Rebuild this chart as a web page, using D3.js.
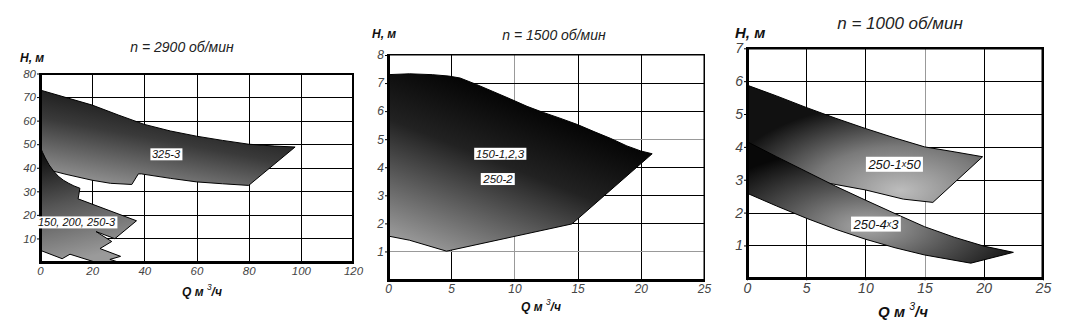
<!DOCTYPE html>
<html>
<head>
<meta charset="utf-8">
<script src="https://cdn.jsdelivr.net/npm/d3@7"></script>
<style>
  body { margin: 0; background: #fff; }
  text { font-family: "Liberation Sans", Arial, sans-serif; }
</style>
</head>
<body>
<script>
// ---- data ----
const titles = ["n = 2900 об/мин", "n = 1500 об/мин", "n = 1000 об/мин"]

const p1XTicks = [0, 20, 40, 60, 80, 100, 120]
const p1YTicks = [10, 20, 30, 40, 50, 60, 70, 80]
const p2XTicks = [0, 5, 10, 15, 20, 25]
const p2YTicks = [1, 2, 3, 4, 5, 6, 7, 8]
const p3XTicks = [0, 5, 10, 15, 20, 25]
const p3YTicks = [1, 2, 3, 4, 5, 6, 7]

// [Q, H] outlines
const zone325 = [[0, 73], [10, 69.8], [20, 66.6], [30, 62.4], [40, 58.4], [50, 55.6], [60, 53.4],
  [70, 51.6], [80, 50], [90, 49.2], [97.8, 48.8], [80, 32.5], [70, 33.2], [60, 34], [50, 35.5],
  [40, 37.2], [38.9, 37.4], [37.7, 37.4], [35.2, 32.9], [27, 33.4], [20, 34.7], [10, 37.2], [0, 40]]
const zone150 = [[0, 49], [1, 46.5], [2, 44.2], [3.5, 41.2], [5, 38.9], [7, 36.4], [9, 34.7],
  [11, 33.4], [13, 32.3], [15.3, 31.3], [14.6, 26.8], [37, 17.5], [28.7, 9.9], [21.5, 12.9],
  [27.5, 8.7], [23, 5.7], [30.9, 2.4], [26.8, 1.1], [30, 0], [21, 0], [11.5, 3.3], [8.5, 1.4], [0, 5]]
const zone1500 = [[0, 7.3], [1.7, 7.33], [3.5, 7.3], [4.8, 7.25], [5.7, 7.18], [7, 6.95], [8.3, 6.7],
  [9.7, 6.43], [11, 6.17], [12.3, 5.95], [13.6, 5.75], [15, 5.52], [16.3, 5.27], [17.6, 5.03],
  [18.9, 4.76], [20, 4.58], [20.9, 4.48], [14.55, 1.98], [4.63, 1.01], [1.7, 1.4], [0, 1.55]]
const zone1x50 = [[0, 5.88], [2.5, 5.55], [5, 5.2], [7.5, 4.87], [10, 4.56], [12.5, 4.27], [15, 4.0],
  [17.5, 3.85], [19.9, 3.7], [15.7, 2.31], [13.2, 2.41], [10, 2.69], [6.2, 2.94], [3, 3.3], [0, 3.7]]
const zone4x3 = [[0, 4.16], [2.5, 3.7], [5, 3.25], [7.5, 2.8], [10, 2.38], [12.5, 1.97], [15, 1.57],
  [17.5, 1.25], [20, 0.98], [22.5, 0.79], [18.9, 0.46], [15, 0.71], [12.5, 0.93], [10, 1.19],
  [7.5, 1.49], [5, 1.83], [2.5, 2.2], [0, 2.59]]

const svg = d3.select("body").append("svg")
  .attr("width", 1086)
  .attr("height", 330)

const defs = svg.append("defs")

function linGrad(id, x1, y1, x2, y2, stops) {
  const g = defs.append("linearGradient").attr("id", id)
    .attr("x1", x1).attr("y1", y1).attr("x2", x2).attr("y2", y2)
  stops.forEach(s => g.append("stop").attr("offset", s[0]).attr("stop-color", s[1]))
}
function radGrad(id, cx, cy, r, stops) {
  const g = defs.append("radialGradient").attr("id", id)
    .attr("cx", cx).attr("cy", cy).attr("r", r)
  stops.forEach(s => g.append("stop").attr("offset", s[0]).attr("stop-color", s[1]))
}

linGrad("g325", 0.05, 1, 0.55, 0, [[0, "#a2a2a2"], [0.55, "#3a3a3a"], [1, "#080808"]])
linGrad("g150", 0.3, 1, 0.1, 0, [[0, "#9a9a9a"], [0.5, "#555"], [1, "#050505"]])
linGrad("g1500", 0.1, 1, 0.6, 0.15, [[0, "#a0a0a0"], [0.6, "#222"], [1, "#000"]])
radGrad("g1x50", 0.65, 0.9, 0.75, [[0, "#bdbdbd"], [0.5, "#7a7a7a"], [1, "#111"]])
radGrad("g4x3", 0.45, 0.7, 0.65, [[0, "#a8a8a8"], [0.5, "#555"], [1, "#080808"]])

function drawPanel(p) {
  const x = d3.scaleLinear().domain(p.xDomain).range(p.xRange)
  const y = d3.scaleLinear().domain(p.yDomain).range(p.yRange)
  const g = svg.append("g")
  const h = p.yRange[0] - p.yRange[1]
  const w = p.xRange[1] - p.xRange[0]

  // grid as thin filled bars
  const grid = g.append("g")
  grid.selectAll("rect.vg").data(p.xTicks.slice(1, -1)).join("rect")
    .attr("class", "vg")
    .attr("x", d => Math.round(x(d))).attr("y", p.yRange[1])
    .attr("width", 1).attr("height", h)
    .attr("fill", d => p.greyX.includes(d) ? "#999" : "#000")
  grid.selectAll("rect.hg").data(p.yTicks.slice(0, -1)).join("rect")
    .attr("class", "hg")
    .attr("x", p.xRange[0]).attr("y", d => Math.round(y(d)))
    .attr("width", w).attr("height", 1)
    .attr("fill", d => p.greyY.includes(d) ? "#999" : "#000")

  // zones
  const area = d3.line().x(d => x(d[0])).y(d => y(d[1]))
  p.zones.forEach(z => {
    g.append("path").attr("d", area(z.pts) + "Z")
      .attr("fill", `url(#${z.grad})`)
      .attr("stroke", "#000").attr("stroke-width", 1)
  })

  // frame as filled bars
  const fx0 = Math.round(p.xRange[0]), fx1 = Math.round(p.xRange[1])
  const fy0 = Math.round(p.yRange[1]), fy1 = Math.round(p.yRange[0])
  const t = p.frame
  const frame = g.append("g").attr("fill", "#000")
  frame.append("rect").attr("x", fx0 - 1).attr("y", fy0 - 1).attr("width", fx1 - fx0 + 2).attr("height", t)
  frame.append("rect").attr("x", fx1 - t + 1).attr("y", fy0 - 1).attr("width", t).attr("height", fy1 - fy0 + 2)
  frame.append("rect").attr("x", fx0 - 1).attr("y", fy0 - 1).attr("width", 3).attr("height", fy1 - fy0 + 3)
  frame.append("rect").attr("x", fx0 - 1).attr("y", fy1 - 1).attr("width", fx1 - fx0 + 2).attr("height", 3)

  // axes
  const xAxis = d3.axisBottom(x).tickValues(p.xTicks).tickSize(2).tickPadding(3).tickFormat(d3.format("d"))
  const yAxis = d3.axisLeft(y).tickValues(p.yTicks).tickSize(3).tickPadding(1).tickFormat(d3.format("d"))
  const xa = g.append("g").attr("transform", `translate(0, ${p.yRange[0]})`).call(xAxis)
  const ya = g.append("g").attr("transform", `translate(${p.xRange[0]}, 0)`).call(yAxis)
  ;[xa, ya].forEach(a => {
    a.select(".domain").remove()
    a.selectAll(".tick line").attr("stroke", "#000")
    a.selectAll("text").attr("font-size", p.tickSize).attr("font-style", "italic")
      .attr("fill", "#444").attr("font-family", "Liberation Sans, Arial, sans-serif")
  })

  // labels in boxes
  p.labels.forEach(l => {
    const tx = g.append("text")
      .attr("x", x(l.q)).attr("y", y(l.h))
      .attr("text-anchor", "middle").attr("dominant-baseline", "central")
      .attr("font-style", "italic").attr("font-size", p.labelSize).attr("fill", "#111")
    l.parts.forEach(part => {
      const s = tx.append("tspan").text(part[0])
      if (part[1]) s.attr("font-size", p.labelSize * 0.7)
    })
    const b = tx.node().getBBox()
    g.insert("rect", () => tx.node())
      .attr("x", b.x - 1.5).attr("y", b.y)
      .attr("width", b.width + 3).attr("height", b.height)
      .attr("fill", "#fff")
  })

  // titles
  svg.append("text").attr("x", p.title[0]).attr("y", p.title[1])
    .attr("text-anchor", "middle").attr("font-style", "italic")
    .attr("font-size", p.titleSize).attr("fill", "#222").text(p.titleText)
  svg.append("text").attr("x", p.hLabel[0]).attr("y", p.hLabel[1])
    .attr("font-style", "italic").attr("font-weight", "bold")
    .attr("font-size", p.axisSize).attr("fill", "#111").text("Н, м")
  const q = svg.append("text").attr("x", p.qLabel[0]).attr("y", p.qLabel[1])
    .attr("text-anchor", "middle").attr("font-style", "italic").attr("font-weight", "bold")
    .attr("font-size", p.axisSize).attr("fill", "#111")
  q.append("tspan").text("Q м ")
  q.append("tspan").text("3").attr("font-size", p.axisSize * 0.7).attr("dy", -p.axisSize * 0.5).attr("font-weight", "normal")
  q.append("tspan").text("/ч").attr("dy", p.axisSize * 0.5)
}

drawPanel({
  xDomain: [0, 120], yDomain: [0, 80], xRange: [40, 353], yRange: [262, 73.5],
  xTicks: p1XTicks, yTicks: p1YTicks, greyX: [], greyY: [], frame: 2,
  tickSize: 11.5, labelSize: 11, titleSize: 14, axisSize: 12,
  zones: [{ pts: zone325, grad: "g325" }, { pts: zone150, grad: "g150" }],
  labels: [{ q: 48.3, h: 45.7, parts: [["325-3"]] }, { q: 14, h: 16.8, parts: [["150, 200, 250-3"]] }],
  titleText: titles[0], title: [182, 52], hLabel: [20, 62], qLabel: [202, 296]
})

drawPanel({
  xDomain: [0, 25], yDomain: [0, 8], xRange: [388, 704], yRange: [279.5, 55],
  xTicks: p2XTicks, yTicks: p2YTicks, greyX: [10], greyY: [1, 5], frame: 1.5,
  tickSize: 12, labelSize: 11.5, titleSize: 14, axisSize: 12,
  zones: [{ pts: zone1500, grad: "g1500" }],
  labels: [{ q: 8.86, h: 4.48, parts: [["150-1,2,3"]] }, { q: 8.7, h: 3.58, parts: [["250-2"]] }],
  titleText: titles[1], title: [554, 40], hLabel: [372, 38], qLabel: [541, 311]
})

drawPanel({
  xDomain: [0, 25], yDomain: [0, 7], xRange: [747, 1043], yRange: [278.3, 48.3],
  xTicks: p3XTicks, yTicks: p3YTicks, greyX: [15], greyY: [], frame: 2.5,
  tickSize: 14, labelSize: 13, titleSize: 17, axisSize: 15,
  zones: [{ pts: zone1x50, grad: "g1x50" }, { pts: zone4x3, grad: "g4x3" }],
  labels: [{ q: 12.46, h: 3.47, parts: [["250-1"], ["х", true], ["50"]] },
           { q: 10.9, h: 1.65, parts: [["250-4"], ["х", true], ["3"]] }],
  titleText: titles[2], title: [900, 29], hLabel: [735, 38], qLabel: [903, 317]
})
</script>
</body>
</html>
